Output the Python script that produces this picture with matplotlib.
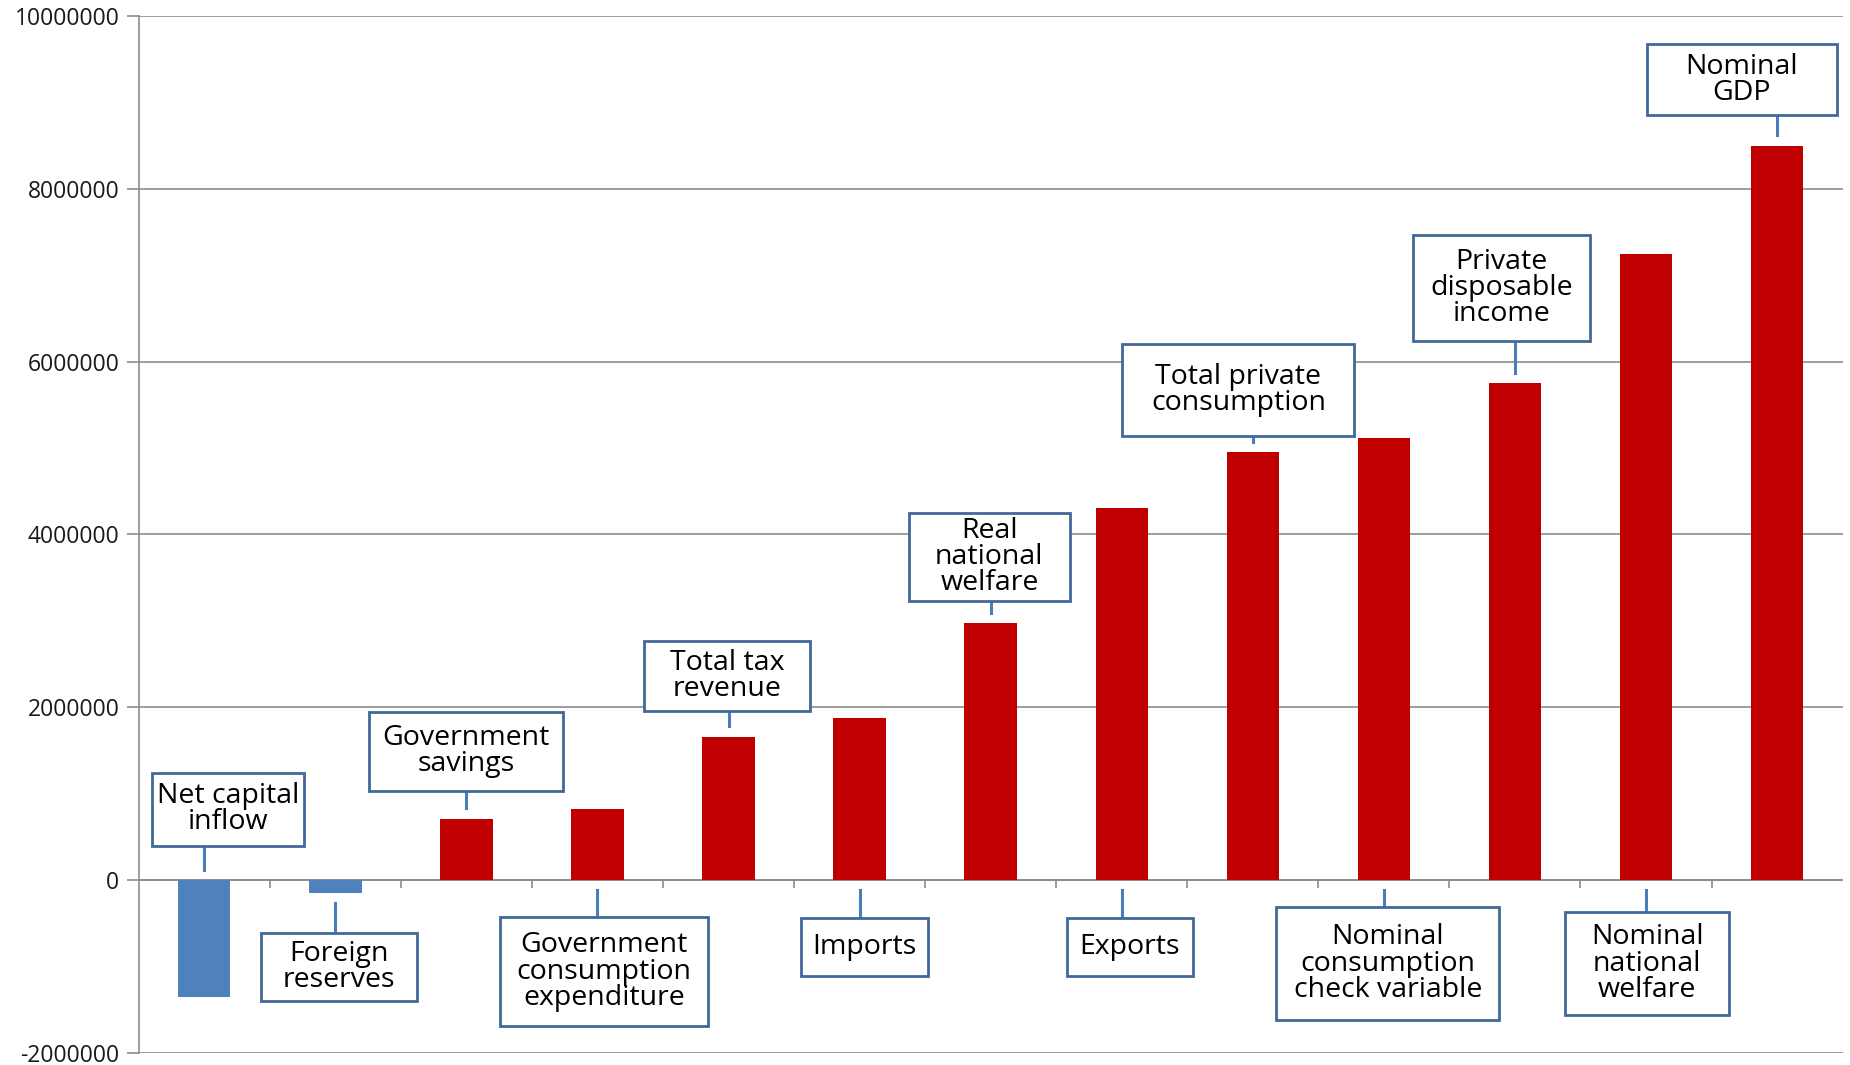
import matplotlib
matplotlib.use("Agg")
import matplotlib.pyplot as plt
from matplotlib.patches import Rectangle
import numpy as np

# Variables (ordre du graphique) et valeurs
labels = ["Net capital\ninflow", "Foreign\nreserves", "Government\nsavings",
          "Government\nconsumption\nexpenditure", "Total tax\nrevenue", "Imports",
          "Real\nnational\nwelfare", "Exports", "Total private\nconsumption",
          "Nominal\nconsumption\ncheck variable", "Private\ndisposable\nincome",
          "Nominal\nnational\nwelfare", "Nominal\nGDP"]
values = [-1350000, -150000, 710000, 820000, 1660000, 1870000, 2970000,
          4300000, 4950000, 5110000, 5750000, 7250000, 8500000]

# Placement des étiquettes (centre x en catégories, centre y en données, largeur, hauteur)
lab_x = [0.18, 1.03, 2.0, 3.05, 3.99, 5.04, 5.99, 7.06, 7.89, 9.03, 9.90, 11.01, 11.73]
lab_y = [0.82e6, -1.01e6, 1.49e6, -1.06e6, 2.36e6, -0.78e6, 3.74e6, -0.78e6,
         5.67e6, -0.97e6, 6.85e6, -0.97e6, 9.26e6]
lab_w = [1.16, 1.19, 1.48, 1.59, 1.27, 0.97, 1.23, 0.96, 1.77, 1.70, 1.35, 1.25, 1.45]
lab_h = [0.845e6, 0.79e6, 0.91e6, 1.27e6, 0.82e6, 0.67e6, 1.02e6, 0.67e6,
         1.06e6, 1.31e6, 1.23e6, 1.19e6, 0.82e6]

red = "#C00000"
blue = "#4F81BD"
edge = "#41689A"
grid = "#8C8C8C"

fig = plt.figure(figsize=(18.5, 10.65), dpi=100)
ax = fig.add_axes([0.075, 0.0115, 0.921, 0.9735])

x = np.arange(len(values))
colors = [blue if v < 0 else red for v in values]
ax.bar(x, values, width=0.4, color=colors, zorder=3)

ax.set_xlim(-0.5, len(values) - 0.5)
ax.set_ylim(-2000000, 10000000)
ax.set_yticks(np.arange(-2000000, 10000001, 2000000))
ax.set_yticklabels([str(v) for v in range(-2000000, 10000001, 2000000)],
                   fontsize=16.5, family="Open Sans", color="#1a1a1a")
ax.set_xticks([])
ax.grid(axis="y", color=grid, lw=1.2, zorder=0)
ax.tick_params(axis="y", length=9, width=1.2, color=grid, pad=5)
for s in ["top", "right", "bottom"]:
    ax.spines[s].set_visible(False)
ax.spines["left"].set_color(grid)
ax.spines["left"].set_linewidth(1.2)

# axe des catégories à 0 avec graduations vers le bas
ax.axhline(0, color=grid, lw=1.2, zorder=2)
ax.vlines(np.arange(0.5, len(values) - 0.5), -0.09e6, 0, color=grid, lw=1.2, zorder=2)

gap = 0.12e6
for i, (t, v) in enumerate(zip(labels, values)):
    cx, cy, w, h = lab_x[i], lab_y[i], lab_w[i], lab_h[i]
    ax.add_patch(Rectangle((cx - w / 2, cy - h / 2), w, h, fc="white", ec=edge,
                           lw=2, zorder=5))
    ax.text(cx, cy, t, ha="center", va="center", fontsize=20.5, family="Open Sans",
            linespacing=0.92, zorder=6)
    if cy > max(v, 0):
        y0, y1 = max(v, 0) + gap, cy - h / 2
    else:
        y0, y1 = min(v, 0) - gap, cy + h / 2
    ax.plot([i, i], [y0, y1], color="#4A7EBB", lw=2.2, zorder=4)

fig.savefig("out.png", dpi=100)
